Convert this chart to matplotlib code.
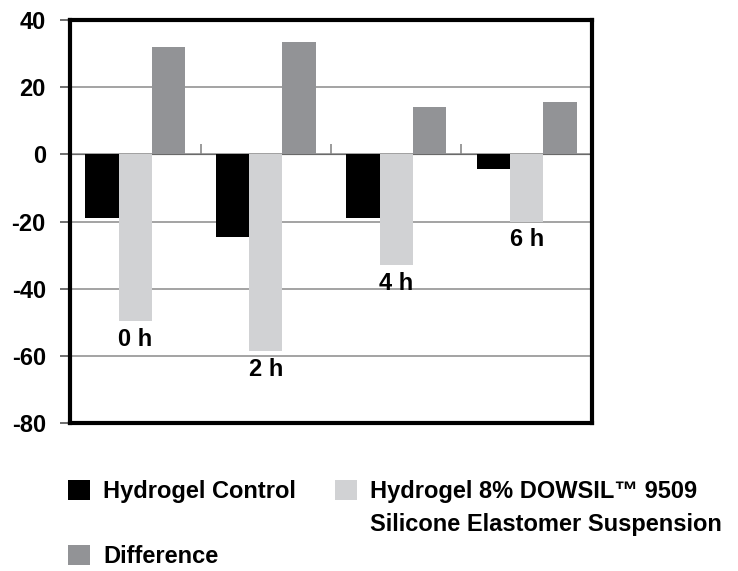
import matplotlib
matplotlib.use("Agg")
import matplotlib.pyplot as plt
import matplotlib.patches as mpatches
import numpy as np

# values
categories = ["0 h", "2 h", "4 h", "6 h"]
control = [-19, -24.5, -19, -4.5]
silicone = [-49.5, -58.5, -33, -20]
difference = [32, 33.5, 14, 15.5]

series_labels = ["Hydrogel Control", "Hydrogel 8% DOWSIL\u2122 9509",
                 "Silicone Elastomer Suspension", "Difference"]
y_ticks = [-80, -60, -40, -20, 0, 20, 40]

plt.rcParams['font.family'] = ['Liberation Sans', 'DejaVu Sans']
plt.rcParams['font.weight'] = 'bold'

fig = plt.figure(figsize=(7.38, 5.71), dpi=100)
ax = fig.add_axes([0.095, 0.259, 0.707, 0.706])

x = np.arange(len(categories))
w = 0.255
b_c = ax.bar(x - w, control, w, color='#000000', zorder=3)
b_s = ax.bar(x, silicone, w, color='#d1d2d4', zorder=3)
b_d = ax.bar(x + w, difference, w, color='#929396', zorder=3)

ax.set_xlim(-0.5, len(categories) - 0.5)
ax.set_ylim(-80, 40)
ax.set_yticks(y_ticks)
ax.set_yticklabels([str(v) for v in y_ticks], fontsize=17, fontweight='bold')
ax.tick_params(axis='y', direction='out', length=7.5, width=1.2,
               color='#555555', pad=10)
ax.set_xticks([])
ax.yaxis.grid(True, color='#8a8a8a', linewidth=1.1, zorder=0)
ax.set_axisbelow(True)
for s in ax.spines.values():
    s.set_linewidth(3)
    s.set_color('black')

# category axis running along y = 0 with boundary tick marks
zero_loc = (0 - (-80)) / 120
sec = ax.secondary_xaxis(zero_loc)
sec.set_xticks(x[:-1] + 0.5)
sec.set_xticklabels([])
sec.tick_params(direction='out', length=7, width=1.2, color='#8a8a8a')
sec.spines['bottom'].set_color('#8a8a8a')
sec.spines['bottom'].set_linewidth(1.1)

# category labels under the light bars
for xi, yi, lab in zip(x, silicone, categories):
    ax.annotate(lab, (xi, yi), xytext=(0, -5), textcoords='offset points',
                ha='center', va='top', fontsize=17, fontweight='bold')

blank = mpatches.Patch(facecolor='none', edgecolor='none')
handles = [b_c, blank, b_d, b_s, blank, blank]
labels = [series_labels[0], '', series_labels[3],
          series_labels[1], series_labels[2], '']
fig.legend(handles, labels, ncol=2, loc='upper left',
           bbox_to_anchor=(68 / 738, 1 - 480 / 571), frameon=False,
           prop={'size': 17, 'weight': 'bold'}, borderpad=0,
           borderaxespad=0, handlelength=0.93, handleheight=0.93,
           handletextpad=0.55, columnspacing=1.65, labelspacing=0.4)

fig.savefig("out.png", dpi=100)
